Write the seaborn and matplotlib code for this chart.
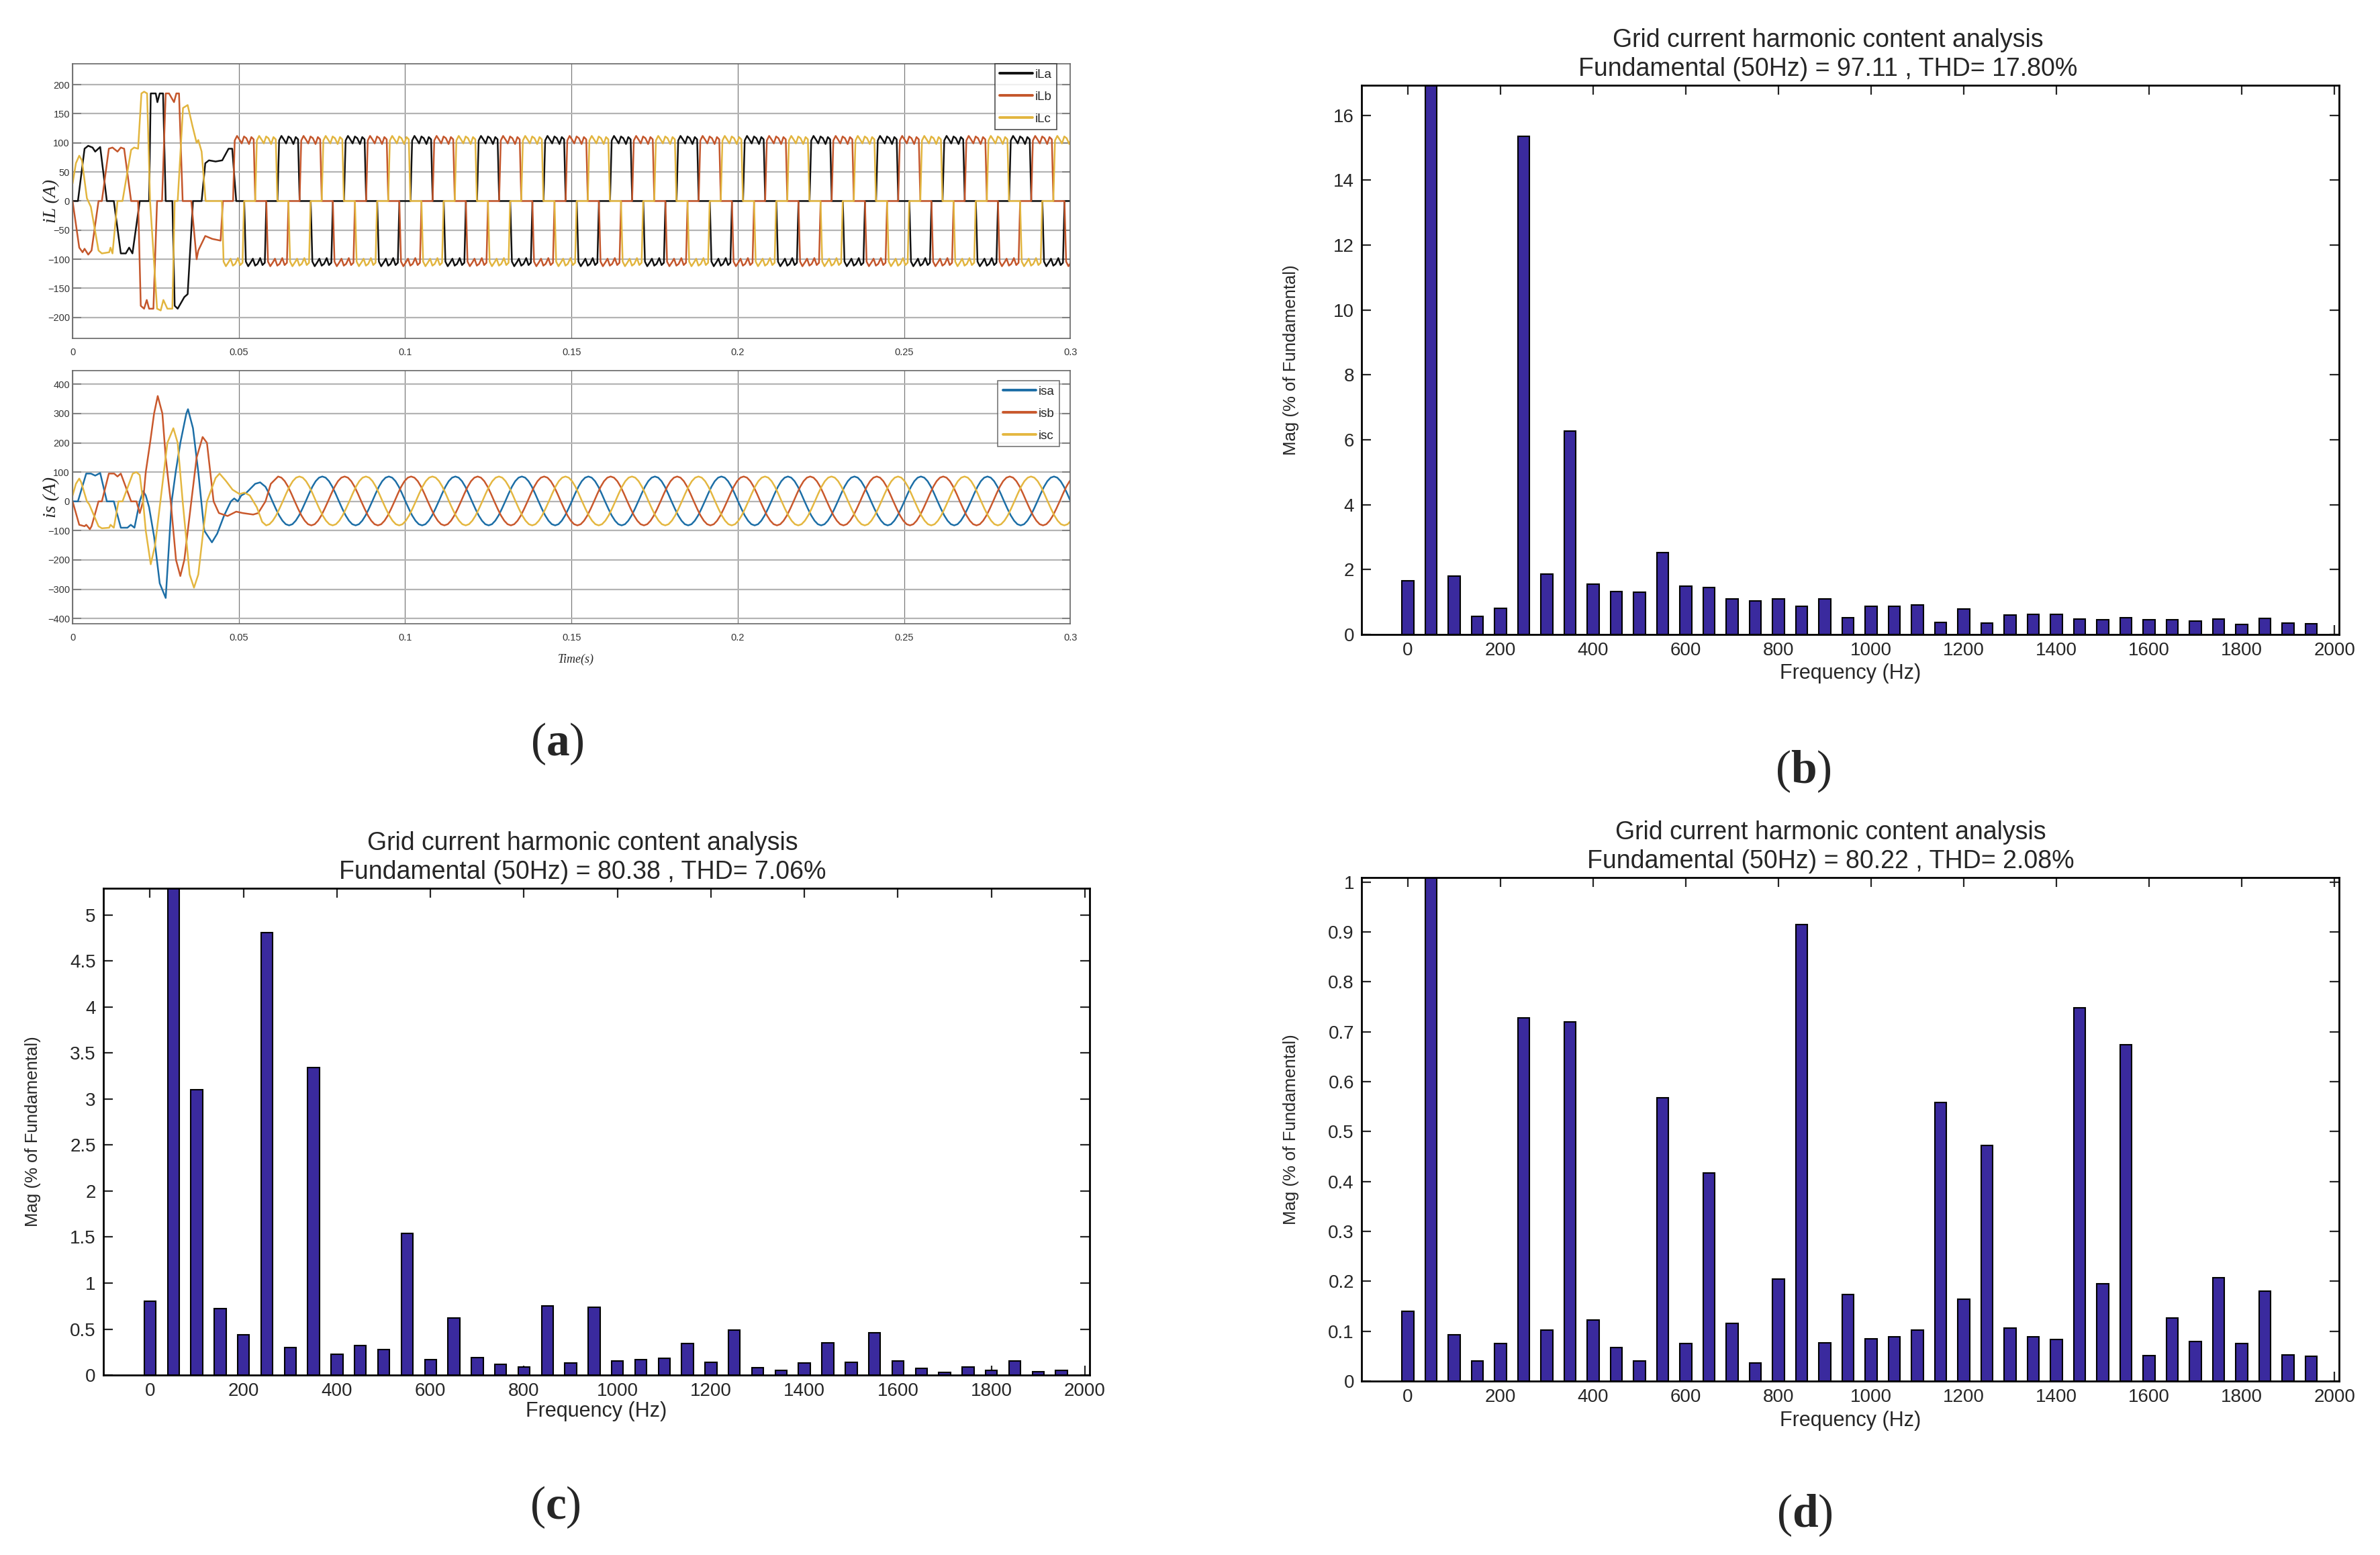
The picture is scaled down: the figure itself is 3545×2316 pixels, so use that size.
import numpy as np
import pandas as pd
import seaborn as sns
import matplotlib
matplotlib.use("Agg")
import matplotlib.pyplot as plt
from matplotlib.ticker import FuncFormatter

# ---------------------------------------------------------------------------
# (a) load currents iL and source currents is  (time in ms, current in A)
# start-up transients read point by point, then one steady cycle of 20 ms
# ---------------------------------------------------------------------------
PERIOD_MS = 20.0

ILA_T = [0, 1.6, 3.6, 4.7, 6.0, 6.8, 8.3, 10.3, 12.4, 14.5, 16.0, 17.0, 18.0,
         20.2, 23.0, 23.5, 25.0, 25.5, 26.2, 27.2, 28.0, 30.0, 30.7, 31.6,
         33.6, 34.6, 36.2, 38.8, 39.9, 41.0, 43.0, 45.0, 46.9, 48.0, 49.2, 51.6]
ILA_V = [0, 0, 90, 95, 92, 85, 93, 0, 0, -90, -90, -80, -90,
         0, 0, 185, 185, 170, 185, 185, 0, 0, -180, -185,
         -165, -160, 0, 0, 65, 70, 68, 70, 90, 90, 0, 0]

ILB_T = [0, 2.0, 3.0, 3.6, 4.7, 5.7, 7.8, 8.8, 10.9, 12.0, 13.5, 14.5, 15.5,
         17.6, 19.7, 20.5, 21.5, 22.3, 23.0, 24.3, 25.4, 26.9, 28.0, 29.0,
         30.5, 31.2, 32.0, 33.1, 35.7, 37.3, 37.8, 39.9, 42.0, 44.5, 45.2, 48.25]
ILB_V = [0, -80, -88, -82, -92, -85, 0, 0, 90, 92, 85, 92, 90,
         0, 0, -180, -185, -170, -185, -185, 0, 0, 185, 185,
         170, 185, 185, 0, 0, -100, -85, -60, -65, -68, 0, 0]

ILC_T = [0, 1.0, 2.0, 2.8, 4.3, 5.5, 7.8, 8.8, 11.0, 11.4, 12.0, 13.5, 15.0,
         17.6, 18.5, 19.7, 20.7, 21.5, 22.4, 23.3, 25.4, 26.5, 27.3, 28.5,
         30.0, 30.7, 31.6, 33.2, 34.6, 36.0, 37.3, 37.8, 38.8, 40.0, 44.9]
ILC_V = [30, 65, 78, 70, 5, -10, -85, -90, -88, -80, -90, 0, 0,
         88, 92, 90, 185, 188, 185, 0, -185, -188, -170, -185,
         -185, 0, 0, 160, 165, 130, 100, 105, 85, 0, 0]

# steady-state load current cycle, measured from the rising edge
IL_CYC_T = [0, 0.5, 1.2, 2.0, 2.6, 3.3, 4.0, 4.8, 5.5, 6.2, 6.67, 10.0,
            10.5, 11.2, 12.0, 12.6, 13.3, 14.0, 14.8, 15.5, 16.2, 16.67, 20.0]
IL_CYC_V = [0, 104, 112, 105, 99, 111, 108, 98, 110, 106, 0, 0,
            -104, -112, -105, -99, -111, -108, -98, -110, -106, 0, 0]
IL_EDGES = [1.6, 8.25, 14.9]
IL_SS_START = [51.6, 48.25, 44.9]

ISA_T = [0, 1.6, 4.1, 5.5, 6.8, 8.3, 10.3, 12.4, 14.5, 16.5, 17.5, 18.6, 20.2,
         21.2, 22.0, 23.0, 24.5, 26.2, 28.0, 29.8, 31.0, 32.4, 34.2, 34.7,
         36.2, 37.8, 39.6, 41.9, 43.5, 45.5, 47.6, 48.6, 49.7, 50.7, 52.3,
         54.9, 56.4, 58.0]
ISA_V = [0, 0, 95, 95, 88, 97, 0, 0, -90, -90, -80, -90, 0,
         35, 20, -20, -120, -280, -330, 0, 100, 200, 300, 315,
         250, 100, -100, -140, -110, -50, 0, 10, 0, 20, 30,
         60, 65, 50]

ISB_T = [0, 2.0, 3.6, 4.1, 5.2, 5.7, 7.8, 8.8, 10.9, 12.5, 13.5, 14.5, 17.6,
         19.2, 20.2, 21.2, 22.0, 23.3, 24.5, 25.6, 27.0, 28.0, 29.5, 31.1,
         32.4, 33.6, 35.7, 37.3, 39.1, 40.4, 42.4, 44.0, 46.6, 49.2, 51.2,
         54.3, 55.8, 58.0, 59.6]
ISB_V = [0, -80, -85, -80, -95, -85, 0, 0, 95, 95, 85, 95, 0,
         0, -40, 0, 100, 200, 300, 360, 300, 150, 0, -200,
         -255, -200, 0, 150, 220, 200, 0, -40, -50, -35, -40,
         -45, -40, 0, 60]

ISC_T = [0, 1.0, 2.0, 2.6, 4.3, 5.0, 7.8, 8.8, 11.0, 11.4, 12.4, 13.8, 15.0,
         18.1, 19.2, 20.2, 21.2, 22.0, 23.5, 24.8, 26.4, 28.5, 30.3, 31.6,
         33.1, 35.2, 36.5, 37.8, 39.3, 40.4, 43.0, 44.2, 46.1, 48.1, 50.2,
         51.7, 53.3, 55.4, 56.2, 57.0]
ISC_V = [20, 60, 78, 65, 0, -10, -85, -92, -90, -80, -90, 0, 0,
         95, 100, 90, 0, -100, -215, -150, 0, 200, 250, 200,
         0, -250, -295, -250, -100, 0, 80, 95, 70, 40, 25,
         30, 20, -20, -45, -70]

# steady-state source current cycle, 1 ms steps starting at the positive peak
IS_CYC_T = [0, 1, 2, 3, 4, 5, 6, 7, 8, 9, 10, 11, 12, 13, 14, 15, 16, 17, 18, 19, 20]
IS_CYC_V = [85, 81, 69, 50, 26, 0, -25, -48, -66, -78, -82, -78, -66, -48, -25,
            0, 26, 50, 69, 81, 85]
IS_EDGES = [15.1, 1.8, 8.2]
IS_SS_START = [59.1, 61.8, 58.2]

IL_NAMES = ["iLa", "iLb", "iLc"]
IS_NAMES = ["isa", "isb", "isc"]
IL_COLORS = ["#111111", "#c4562b", "#e2b53e"]
IS_COLORS = ["#1c6ea6", "#c9582c", "#e4b740"]

# ---------------------------------------------------------------------------
# (b)-(d) harmonic spectra, % of fundamental
# ---------------------------------------------------------------------------
FREQ = [0, 50, 100, 150, 200, 250, 300, 350, 400, 450, 500, 550, 600, 650,
        700, 750, 800, 850, 900, 950, 1000, 1050, 1100, 1150, 1200, 1250,
        1300, 1350, 1400, 1450, 1500, 1550, 1600, 1650, 1700, 1750, 1800,
        1850, 1900, 1950]

MAG_B = [1.65, 100, 1.8, 0.55, 0.8, 15.35, 1.87, 6.27, 1.55, 1.32, 1.3, 2.52,
         1.48, 1.44, 1.1, 1.03, 1.09, 0.86, 1.1, 0.52, 0.86, 0.86, 0.9, 0.38,
         0.78, 0.36, 0.6, 0.62, 0.62, 0.48, 0.45, 0.52, 0.45, 0.45, 0.42,
         0.48, 0.3, 0.5, 0.36, 0.34]
MAG_C = [0.8, 100, 3.1, 0.72, 0.44, 4.81, 0.3, 3.34, 0.23, 0.32, 0.28, 1.54,
         0.17, 0.62, 0.19, 0.12, 0.09, 0.75, 0.13, 0.74, 0.15, 0.17, 0.18,
         0.34, 0.14, 0.49, 0.08, 0.05, 0.13, 0.35, 0.14, 0.46, 0.15, 0.07,
         0.03, 0.09, 0.05, 0.15, 0.04, 0.05]
MAG_D = [0.14, 100, 0.093, 0.04, 0.076, 0.728, 0.103, 0.72, 0.123, 0.068,
         0.04, 0.568, 0.075, 0.417, 0.116, 0.036, 0.205, 0.915, 0.077, 0.173,
         0.085, 0.089, 0.103, 0.558, 0.164, 0.472, 0.106, 0.089, 0.083, 0.748,
         0.195, 0.674, 0.051, 0.126, 0.08, 0.207, 0.075, 0.181, 0.052, 0.05]

TITLE_B = "Grid current harmonic content analysis\nFundamental (50Hz) = 97.11 , THD= 17.80%"
TITLE_C = "Grid current harmonic content analysis\nFundamental (50Hz) = 80.38 , THD= 7.06%"
TITLE_D = "Grid current harmonic content analysis\nFundamental (50Hz) = 80.22 , THD= 2.08%"

BAR_COLOR = "#3a2a9e"


def build_wave(tr_t, tr_v, cyc_t, cyc_v, edge, ss_start, t_end=305.0):
    """transient points followed by the measured steady cycle, in seconds"""
    ts = list(tr_t)
    vs = list(tr_v)
    for k in range(-1, 17):
        base = edge + k * PERIOD_MS
        for tt, vv in zip(cyc_t, cyc_v):
            t = base + tt
            if ss_start <= t <= t_end and t > ts[-1]:
                ts.append(t)
                vs.append(vv)
    return np.array(ts) / 1000.0, np.array(vs)


sns.set_style("ticks")
plt.rcParams["font.family"] = ["Liberation Sans", "DejaVu Sans"]
plt.rcParams["mathtext.fontset"] = "custom"
plt.rcParams["mathtext.rm"] = "Liberation Serif"
plt.rcParams["mathtext.bf"] = "Liberation Serif:bold"

fig = plt.figure(figsize=(35.45, 23.16), dpi=100)


def style_wave_axes(ax, ylim, yticks, ylabel):
    ax.set_xlim(0, 0.3)
    ax.set_ylim(*ylim)
    ax.set_yticks(yticks)
    ax.set_xticks([0, 0.05, 0.1, 0.15, 0.2, 0.25, 0.3])
    ax.set_xticklabels(["0", "0.05", "0.1", "0.15", "0.2", "0.25", "0.3"])
    ax.set_axisbelow(True)
    ax.grid(axis="y", color="#b4b4b4", lw=1.6)
    ax.grid(axis="x", color="#7a7a7a", lw=0.9)
    ax.tick_params(axis="y", direction="in", length=9, width=1.2,
                   color="#777777", labelsize=10.5, labelcolor="#333333",
                   right=True, pad=3)
    ax.tick_params(axis="x", length=0, labelsize=10.5, labelcolor="#333333", pad=10)
    for sp in ax.spines.values():
        sp.set_color("#666666")
        sp.set_linewidth(1.2)
    ax.set_xlabel("")
    ax.set_ylabel(ylabel, family="Liberation Serif", style="italic", fontsize=20)
    ax.yaxis.set_label_coords(-0.013, 0.5)


def wave_legend(ax, anchor, edge):
    leg = ax.legend(loc="upper right", bbox_to_anchor=anchor,
                    borderaxespad=0, fontsize=13.5, handlelength=2.6,
                    labelspacing=0.85, handletextpad=0.2, borderpad=0.4,
                    frameon=True, fancybox=False)
    leg.get_frame().set_edgecolor(edge)
    leg.get_frame().set_linewidth(1.2)
    for line in leg.get_lines():
        line.set_linewidth(2.8)


# ---- (a) top: load currents
ax_il = fig.add_axes([0.0305, 0.7824, 0.4192, 0.1766])
for i in range(3):
    tr_t = [ILA_T, ILB_T, ILC_T][i]
    tr_v = [ILA_V, ILB_V, ILC_V][i]
    t, v = build_wave(tr_t, tr_v, IL_CYC_T, IL_CYC_V, IL_EDGES[i], IL_SS_START[i])
    sns.lineplot(x=t, y=v, ax=ax_il, color=IL_COLORS[i], lw=1.8,
                 label=IL_NAMES[i], estimator=None, sort=False)
style_wave_axes(ax_il, (-236, 236), list(range(-200, 201, 50)), "iL (A)")
wave_legend(ax_il, (0.9865, 1.0), "#222222")

# ---- (a) bottom: source currents
ax_is = fig.add_axes([0.0305, 0.5989, 0.4192, 0.1628])
for i in range(3):
    tr_t = [ISA_T, ISB_T, ISC_T][i]
    tr_v = [ISA_V, ISB_V, ISC_V][i]
    t, v = build_wave(tr_t, tr_v, IS_CYC_T, IS_CYC_V, IS_EDGES[i], IS_SS_START[i])
    sns.lineplot(x=t, y=v, ax=ax_is, color=IS_COLORS[i], lw=1.8,
                 label=IS_NAMES[i], estimator=None, sort=False)
style_wave_axes(ax_is, (-418, 447), list(range(-400, 401, 100)), "is (A)")
wave_legend(ax_is, (0.989, 0.96), "#555555")
fig.text(0.242, 0.576, "Time(s)", family="Liberation Serif", style="italic",
         fontsize=13, ha="center", va="center")


# ---- (b)-(d) spectra
def spectrum(rect, mags, title, title_x, ylim, step, xlab_y, ylab_x):
    ax = fig.add_axes(rect)
    sns.barplot(x=FREQ, y=mags, ax=ax, native_scale=True, width=0.5,
                color=BAR_COLOR, saturation=1, edgecolor="black",
                linewidth=1.5)
    ax.set_xlim(-100, 2010)
    ax.set_xticks([0, 200, 400, 600, 800, 1000, 1200, 1400, 1600, 1800, 2000])
    ax.set_ylim(0, ylim)
    ax.set_yticks(np.arange(0, ylim + 1e-9, step))
    ax.yaxis.set_major_formatter(FuncFormatter(lambda y, p: "%g" % round(y, 3)))
    ax.tick_params(direction="in", length=10, width=1.6, labelsize=20,
                   top=True, right=True, pad=8)
    for sp in ax.spines.values():
        sp.set_visible(True)
        sp.set_color("black")
        sp.set_linewidth(2)
    ax.set_title(title, fontsize=27, pad=10, linespacing=1.25, x=title_x)
    ax.set_xlabel("Frequency (Hz)", fontsize=22)
    ax.set_ylabel("Mag (% of Fundamental)", fontsize=18.5)
    ax.xaxis.set_label_coords(0.5, xlab_y)
    ax.yaxis.set_label_coords(ylab_x, 0.5)
    return ax


spectrum([0.5721, 0.5920, 0.4107, 0.3532], MAG_B, TITLE_B, 0.477, 16.93, 2, -0.053, -0.064)
spectrum([0.0434, 0.1157, 0.4144, 0.3130], MAG_C, TITLE_C, 0.486, 5.29, 0.5, -0.054, -0.063)
spectrum([0.5721, 0.1118, 0.4107, 0.3238], MAG_D, TITLE_D, 0.48, 1.009, 0.1, -0.058, -0.064)

# panel letters
for x, y, letter in [(0.2341, 0.5216, "a"), (0.7577, 0.5039, "b"),
                     (0.2334, 0.0306, "c"), (0.7583, 0.0255, "d")]:
    fig.text(x, y, "($\\mathbf{%s}$)" % letter, family="Liberation Serif",
             fontsize=50, ha="center", va="center")

fig.savefig("out.png", dpi=100)
